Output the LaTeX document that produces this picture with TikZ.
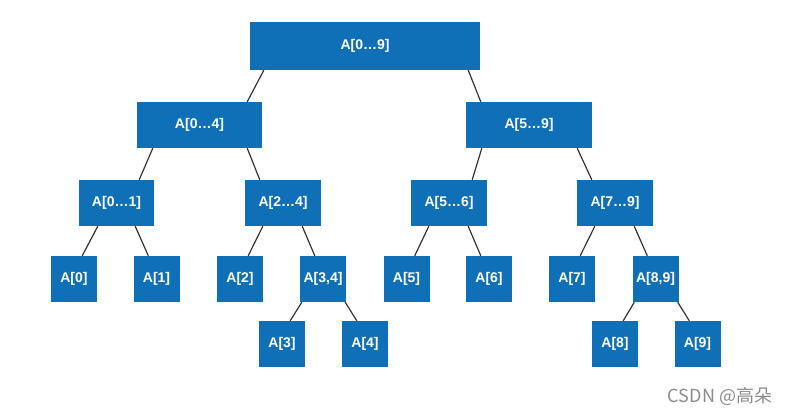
\documentclass[tikz,border=0pt]{standalone}
\usepackage{fontspec}
\setmainfont{Liberation Sans}
\newfontfamily\cjkfont{Noto Sans CJK SC}
\definecolor{boxblue}{HTML}{0F70B7}

\begin{document}
\begin{tikzpicture}[x=1pt,y=1pt,
	blok/.style={fill=boxblue,text=white,font=\bfseries\fontsize{14}{16}\selectfont,
		minimum height=46pt,inner sep=0pt},
	tak/.style={draw=black!80,line width=1.2pt}]
	\useasboundingbox (0,0) rectangle (791,-415);
	% top levels
	\node[blok,minimum width=230pt,minimum height=48pt] (root) at (365,-46) {A[0…9]};
	\node[blok,minimum width=125pt] (a04) at (199.5,-125) {A[0…4]};
	\node[blok,minimum width=126pt] (a59) at (529,-125) {A[5…9]};
	\node[blok,minimum width=75pt] (a01) at (116.5,-203) {A[0…1]};
	\node[blok,minimum width=76pt] (a24) at (283,-203) {A[2…4]};
	\node[blok,minimum width=76pt] (a56) at (449,-203) {A[5…6]};
	\node[blok,minimum width=76pt] (a79) at (615,-203) {A[7…9]};
	% leaves
	\foreach \n/\x/\t in {a0/74/A[0], a1/156.5/A[1], a2/240/A[2], a34/323/{A[3,4]},
		a5/406.5/A[5], a6/489/A[6], a7/572/A[7], a89/655.5/{A[8,9]}}
		\node[blok,minimum width=46pt] (\n) at (\x,-279) {\t};
	\foreach \n/\x/\t in {a3/282/A[3], a4/365/A[4], a8/615/A[8], a9/697.5/A[9]}
		\node[blok,minimum width=46pt] (\n) at (\x,-344) {\t};
	% connectors
	\foreach \p/\c/\s in {root/a04/14, a04/a01/16, a59/a56/16, a01/a0/19,
		a24/a2/18, a56/a5/18, a79/a7/18, a34/a3/2, a89/a8/2}
		\draw[tak] ([xshift=\s]\p.south west) -- ([xshift=-15]\c.north east);
	\foreach \p/\c/\s in {root/a59/12, a04/a24/15, a59/a79/15, a01/a1/19,
		a24/a34/19, a56/a6/19, a79/a89/19, a34/a4/1, a89/a9/1}
		\draw[tak] ([xshift=-\s]\p.south east) -- ([xshift=15]\c.north west);
	\node[text=black!45,font=\cjkfont\fontsize{18}{20}\selectfont] (mark) at (720,-396) {CSDN @高朵};
\end{tikzpicture}
\end{document}
